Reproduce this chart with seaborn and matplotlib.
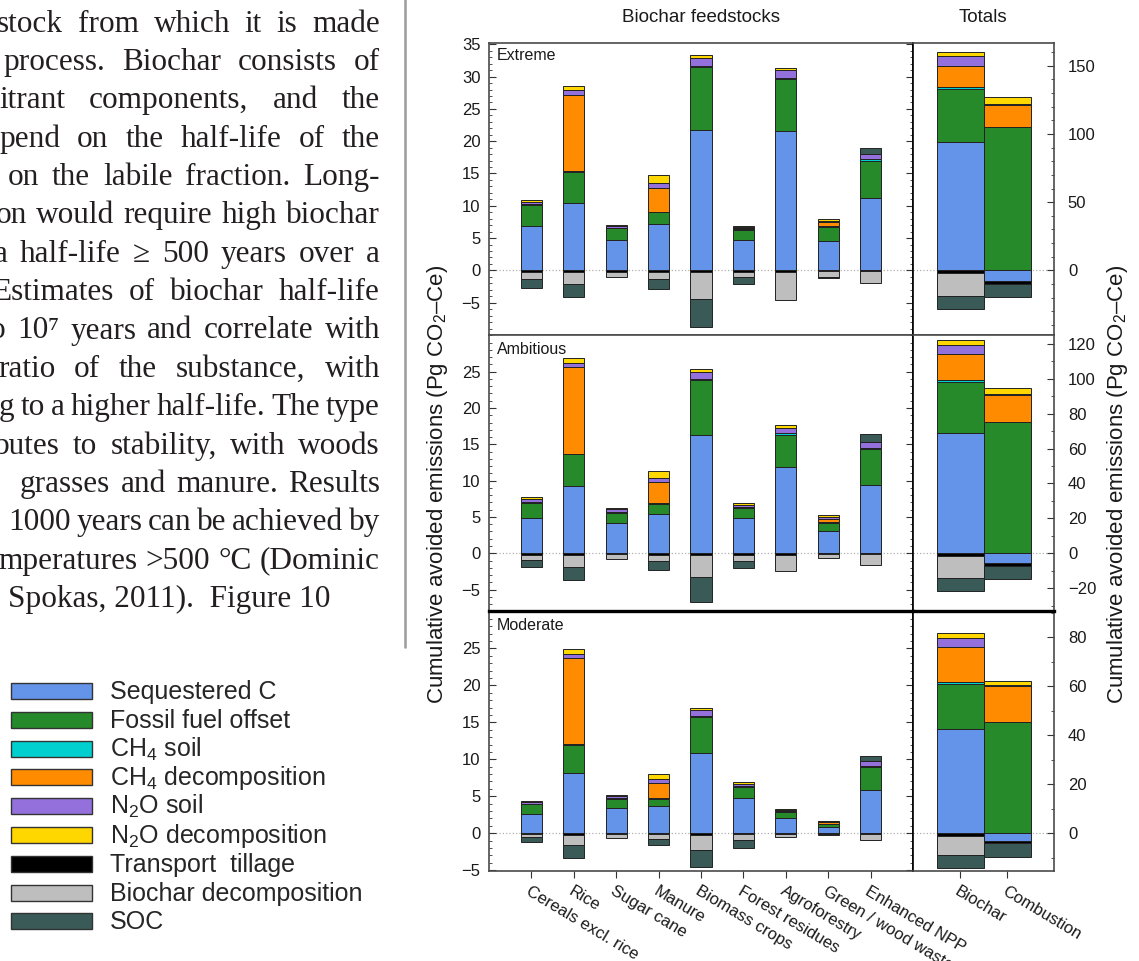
import numpy as np
import pandas as pd
import matplotlib
matplotlib.use("Agg")
import matplotlib.pyplot as plt
import seaborn as sns
from matplotlib.patches import Rectangle
from matplotlib.lines import Line2D
from matplotlib.ticker import MultipleLocator

# ── 1. DATA ───────────────────────────────────────────────────
feedstocks = ["Cereals excl. rice", "Rice", "Sugar cane", "Manure", "Biomass crops",
              "Forest residues", "Agroforestry", "Green / wood waste", "Enhanced NPP"]
total_cats = ["Biochar", "Combustion"]
components = ["Sequestered C", "Fossil fuel offset", "CH$_4$ soil", "CH$_4$ decomposition",
              "N$_2$O soil", "N$_2$O decomposition", "Transport  tillage",
              "Biochar decomposition", "SOC"]
comp_colors = ["#6394ea", "#26892a", "#00cfd0", "#ff8c00", "#9370db", "#ffd700",
               "#000000", "#bebebe", "#3a5a57"]

# Extreme scenario (Pg CO2-Ce), one list per component
ext_seq = [6.9, 10.4, 4.7, 7.2, 21.7, 4.7, 21.6, 4.6, 11.2]
ext_ff = [3.25, 4.8, 1.8, 1.8, 9.8, 1.55, 8.0, 2.1, 5.8]
ext_ch4s = [0.1, 0.15, 0.1, 0.1, 0.15, 0.1, 0.15, 0.1, 0.2]
ext_ch4d = [0, 11.8, 0, 3.7, 0, 0.2, 0, 0.7, 0]
ext_n2os = [0.4, 0.8, 0.35, 0.7, 1.2, 0.2, 1.2, 0.2, 0.8]
ext_n2od = [0.3, 0.6, 0.1, 1.3, 0.5, 0.1, 0.4, 0.3, 0]
ext_trans = [-0.2, -0.25, -0.2, -0.2, -0.3, -0.2, -0.2, -0.15, -0.1]
ext_bdec = [-1.1, -1.8, -0.75, -1.2, -4.1, -0.75, -4.4, -0.8, -1.9]
ext_soc = [-1.35, -2.05, 0, -1.45, -4.4, -1.1, 0, -0.15, 1.0]

# Ambitious scenario
amb_seq = [4.8, 9.3, 4.15, 5.45, 16.3, 4.83, 11.9, 3.0, 9.45]
amb_ff = [2.15, 4.3, 1.45, 1.35, 7.5, 1.4, 4.45, 1.2, 4.9]
amb_ch4s = [0.1, 0.1, 0.1, 0.1, 0.15, 0.1, 0.15, 0.1, 0.15]
amb_ch4d = [0, 11.9, 0, 2.95, 0, 0, 0, 0.45, 0]
amb_n2os = [0.4, 0.6, 0.35, 0.5, 1.05, 0.35, 0.7, 0.2, 0.8]
amb_n2od = [0.25, 0.65, 0.2, 1.0, 0.4, 0.3, 0.4, 0.25, 0]
amb_trans = [-0.2, -0.25, -0.15, -0.2, -0.3, -0.2, -0.2, -0.15, -0.1]
amb_bdec = [-0.7, -1.65, -0.65, -0.8, -3.0, -0.8, -2.3, -0.55, -1.45]
amb_soc = [-1.0, -1.8, 0, -1.25, -3.45, -1.0, 0, 0, 1.1]

# Moderate scenario
mod_seq = [2.65, 8.15, 3.42, 3.75, 10.9, 4.77, 2.0, 0.9, 5.8]
mod_ff = [1.25, 3.85, 1.25, 0.9, 4.85, 1.5, 0.85, 0.35, 3.2]
mod_ch4s = [0.1, 0.1, 0.05, 0.1, 0.15, 0.1, 0.1, 0.05, 0.1]
mod_ch4d = [0, 11.6, 0, 2.1, 0, 0, 0, 0.2, 0]
mod_n2os = [0.25, 0.6, 0.3, 0.45, 0.75, 0.35, 0.25, 0.1, 0.7]
mod_n2od = [0.1, 0.6, 0.15, 0.7, 0.3, 0.25, 0.05, 0.05, 0]
mod_trans = [-0.1, -0.25, -0.1, -0.15, -0.25, -0.15, -0.1, -0.05, -0.1]
mod_bdec = [-0.45, -1.4, -0.55, -0.65, -2.0, -0.75, -0.4, -0.15, -0.8]
mod_soc = [-0.6, -1.65, 0, -0.75, -2.25, -1.15, 0, 0, 0.7]

# Totals, component order as in `components`
ext_biochar_tot = [94, 39, 1.0, 16, 6.8, 3.1, -1.7, -16.7, -10]
ext_comb_tot = [-8.0, 105, 0, 16.5, 0.3, 5.0, -1.7, 0, -9.7]
amb_biochar_tot = [69.2, 28.7, 1.2, 15, 5.4, 2.9, -1.7, -12.5, -7.3]
amb_comb_tot = [-5.75, 75.3, 0, 15.4, 0.3, 3.7, -1.35, 0, -7.7]
mod_biochar_tot = [42.7, 18.3, 0.8, 14.0, 3.8, 2.0, -1.1, -7.6, -5.3]
mod_comb_tot = [-3.1, 45.5, 0, 14.6, 0.2, 1.8, -0.7, 0, -5.7]

scenarios = ["Extreme", "Ambitious", "Moderate"]

# ── 2. STYLE ──────────────────────────────────────────────────
sns.set_theme(style="white")
plt.rcParams["font.family"] = ["Liberation Sans", "DejaVu Sans"]
plt.rcParams["mathtext.fontset"] = "custom"
plt.rcParams["mathtext.rm"] = "Liberation Sans"
plt.rcParams["mathtext.it"] = "Liberation Sans:italic"
plt.rcParams["mathtext.bf"] = "Liberation Sans:bold"
plt.rcParams["axes.unicode_minus"] = True

W, H = 1139, 961
fig = plt.figure(figsize=(W / 100, H / 100), dpi=100)
fig.patch.set_facecolor("white")


def box(x0, y0, x1, y1):
    return [x0 / W, 1 - y1 / H, (x1 - x0) / W, (y1 - y0) / H]


def draw_stack(ax, cats, rows, width):
    pos_base = np.zeros(len(cats))
    neg_base = np.zeros(len(cats))
    for col, vals in zip(comp_colors, rows):
        vals = np.asarray(vals, dtype=float)
        for sign, base in ((1, pos_base), (-1, neg_base)):
            mask = vals * sign > 0
            if not mask.any():
                continue
            df = pd.DataFrame({"cat": np.array(cats)[mask], "val": vals[mask]})
            sns.barplot(data=df, x="cat", y="val", order=cats, color=col,
                        saturation=1, width=width, errorbar=None,
                        bottom=base[mask].copy(), edgecolor="#222222",
                        linewidth=0.7, ax=ax)
            base[mask] += vals[mask]
    ax.set_xlabel("")
    ax.set_ylabel("")


# ── 3. PANELS ─────────────────────────────────────────────────
feed_rows = [
    [ext_seq, ext_ff, ext_ch4s, ext_ch4d, ext_n2os, ext_n2od, ext_trans, ext_bdec, ext_soc],
    [amb_seq, amb_ff, amb_ch4s, amb_ch4d, amb_n2os, amb_n2od, amb_trans, amb_bdec, amb_soc],
    [mod_seq, mod_ff, mod_ch4s, mod_ch4d, mod_n2os, mod_n2od, mod_trans, mod_bdec, mod_soc],
]
tot_rows = [
    [list(c) for c in zip(ext_biochar_tot, ext_comb_tot)],
    [list(c) for c in zip(amb_biochar_tot, amb_comb_tot)],
    [list(c) for c in zip(mod_biochar_tot, mod_comb_tot)],
]

panel_y = [(43, 335), (335, 611), (611, 871)]
left_lims = [(-10, 35.2), (-7.95, 30.05), (-5.1, 30.05)]
right_scale = [4.733, 4.163, 3.016]
left_ticks = [range(-5, 36, 5), range(-5, 26, 5), range(-5, 26, 5)]
right_ticks = [[0, 50, 100, 150], range(-20, 121, 20), range(0, 81, 20)]
label_y = [56, 349, 626]
spine_col = "#4a4a4a"

for i, scen in enumerate(scenarios):
    y0, y1 = panel_y[i]
    axf = fig.add_axes(box(489, y0, 913, y1))
    axt = fig.add_axes(box(913, y0, 1054, y1))

    draw_stack(axf, feedstocks, feed_rows[i], 0.5)
    draw_stack(axt, total_cats, tot_rows[i], 1.0)

    axf.set_xlim(-1, 9)
    axt.set_xlim(-1, 2)
    lo, hi = left_lims[i]
    axf.set_ylim(lo, hi)
    axt.set_ylim(lo * right_scale[i], hi * right_scale[i])

    for ax in (axf, axt):
        ax.axhline(0, color="#b0b0b0", ls=":", lw=0.9, zorder=0)
        for s in ax.spines.values():
            s.set_color(spine_col)
            s.set_linewidth(1.2)
        ax.grid(False)
    axf.spines["right"].set_color("black")
    axt.spines["left"].set_color("black")
    if i == 2:
        axf.spines["top"].set_color("black")
        axt.spines["top"].set_color("black")
        axf.spines["top"].set_linewidth(2.4)
        axt.spines["top"].set_linewidth(2.4)

    # y ticks
    axf.set_yticks(list(left_ticks[i]))
    axf.yaxis.set_minor_locator(MultipleLocator(1))
    axf.tick_params(axis="y", which="both", direction="in", left=True, right=True,
                    labelleft=True, labelright=False, colors="#333333",
                    labelcolor="#1a1a1a", labelsize=12, pad=6)
    axf.tick_params(axis="y", which="major", length=5, width=0.8)
    axf.tick_params(axis="y", which="minor", length=2.5, width=0.6)

    axt.set_yticks(list(right_ticks[i]))
    axt.yaxis.set_minor_locator(MultipleLocator(10))
    axt.tick_params(axis="y", which="both", direction="in", left=False, right=True,
                    labelleft=False, labelright=True, colors="#333333",
                    labelcolor="#1a1a1a", labelsize=12, pad=10)
    axt.tick_params(axis="y", which="major", length=5, width=0.8)
    axt.tick_params(axis="y", which="minor", length=2.5, width=0.6)

    # x ticks only on the bottom row
    if i < 2:
        for ax in (axf, axt):
            ax.tick_params(axis="x", bottom=False, labelbottom=False)
    else:
        for ax, cats in ((axf, feedstocks), (axt, total_cats)):
            ax.set_xticks(range(len(cats)))
            ax.set_xticklabels(cats, rotation=-31, ha="left", va="top",
                               rotation_mode="anchor")
            ax.tick_params(axis="x", direction="out", bottom=True, length=5,
                           width=0.8, colors="#333333", labelcolor="#1a1a1a",
                           labelsize=12, pad=4)

    fig.text(497 / W, 1 - label_y[i] / H, scen, fontsize=11.5, color="#1a1a1a",
             ha="left", va="center")

# titles and axis labels
fig.text(701 / W, 1 - 18 / H, "Biochar feedstocks", fontsize=13.5, ha="center",
         va="center", color="#1a1a1a")
fig.text(983 / W, 1 - 18 / H, "Totals", fontsize=13.5, ha="center", va="center",
         color="#1a1a1a")
ylab = "Cumulative avoided emissions (Pg CO$_2$–Ce)"
fig.text(438 / W, 1 - 484 / H, ylab, rotation=90, fontsize=16, ha="center",
         va="center", color="#1a1a1a")
fig.text(1117 / W, 1 - 484 / H, ylab, rotation=90, fontsize=16, ha="center",
         va="center", color="#1a1a1a")

# ── 4. LEGEND ─────────────────────────────────────────────────
for k, (name, col) in enumerate(zip(components, comp_colors)):
    top = 683 + 28.8 * k
    fig.add_artist(Rectangle((11 / W, 1 - (top + 16) / H), 81 / W, 16 / H,
                             transform=fig.transFigure, facecolor=col,
                             edgecolor="#333333", linewidth=1.0))
    fig.text(110 / W, 1 - (top + 16) / H, name, fontsize=18, ha="left",
             va="baseline", color="#262626")

# ── 5. BODY TEXT OF THE PAGE ──────────────────────────────────
body_lines = [
    "stock from which it is made",
    "process.  Biochar consists of",
    "itrant components, and the",
    "pend on the half-life of the",
    "on the labile fraction.  Long-",
    "on would require high biochar",
    "a half-life ≥ 500 years over a",
    "Estimates of biochar half-life",
    "o 10⁷ years and correlate with",
    "ratio of the substance, with",
    "g to a higher half-life.  The type",
    "butes to stability, with woods",
    "grasses and manure.  Results",
    "1000 years can be achieved by",
    "mperatures >500 °C (Dominic",
    "Spokas, 2011).  Figure 10",
]
body_left = [-3, 3, -1, -1, 8, -4, -6, -8, -10, -2, -1, -6, 20, 8, -2, 8]
serif = ["Liberation Serif", "DejaVu Serif"]
renderer = fig.canvas.get_renderer()
for k, (line, x0) in enumerate(zip(body_lines, body_left)):
    yb = 1 - (31.7 + 38.35 * k) / H
    if k == len(body_lines) - 1:
        fig.text(x0 / W, yb, line, fontsize=22.5, family=serif, color="#231f20",
                 va="baseline", ha="left")
        continue
    words = line.split()
    arts = [fig.text(0, yb, w, fontsize=22.5, family=serif, color="#231f20",
                     va="baseline", ha="left") for w in words]
    widths = [a.get_window_extent(renderer).width for a in arts]
    gap = (380 - x0 - sum(widths)) / max(len(words) - 1, 1)
    x = x0
    for a, w in zip(arts, widths):
        a.set_x(x / W)
        x += w + gap

fig.add_artist(Line2D([405 / W, 405 / W], [1, 1 - 647 / H], transform=fig.transFigure,
                      color="#a0a0a0", linewidth=1.9))

fig.savefig("out.png", dpi=100)
